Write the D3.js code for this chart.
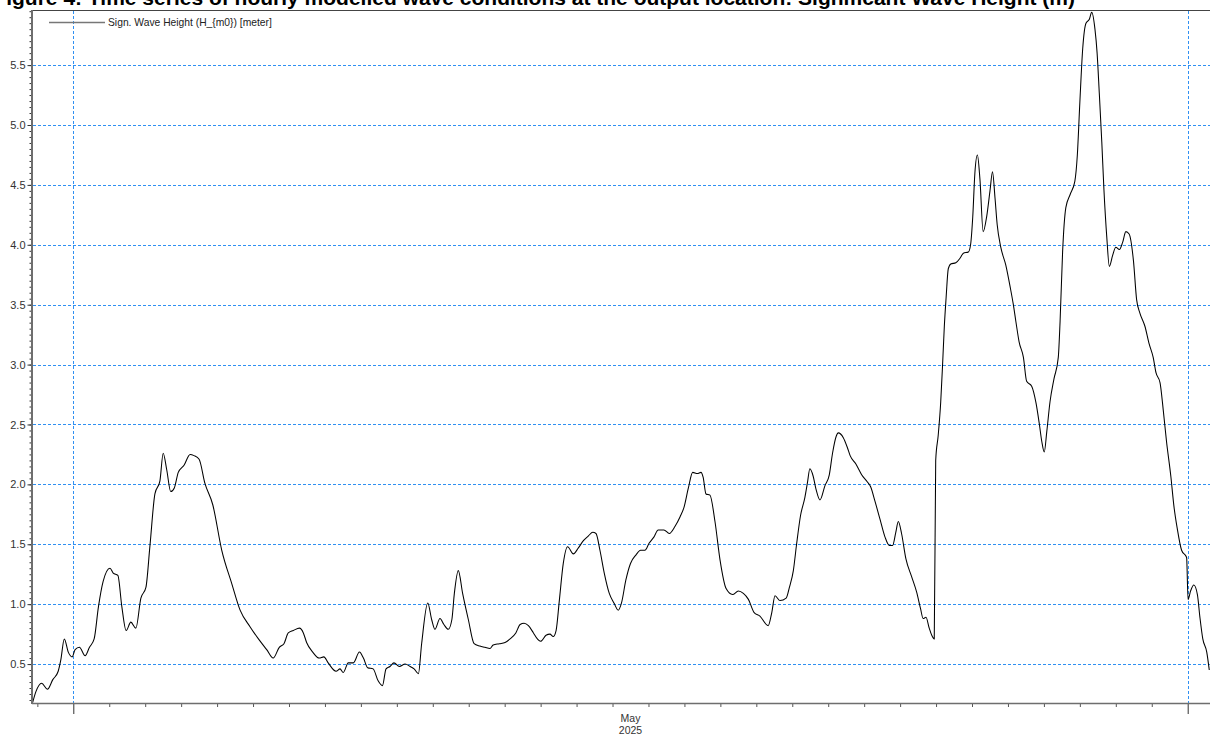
<!DOCTYPE html>
<html>
<head>
<meta charset="utf-8">
<script src="https://cdn.jsdelivr.net/npm/d3@7"></script>
<style>
  html, body { margin: 0; padding: 0; background: #ffffff; }
  svg { display: block; font-family: "Liberation Sans", Arial, sans-serif; }
</style>
</head>
<body>
<svg id="chart" width="1210" height="738"></svg>
<script>
// Hourly significant wave height, time in days since 2025-05-01 00:00 UTC
const dayOffsets = [
  -1.13, -1.04, -0.88, -0.72, -0.57, -0.42, -0.35, -0.25, -0.14, -0.03,
  0.05, 0.17, 0.33, 0.45, 0.58, 0.70, 0.83, 1.02, 1.11, 1.24,
  1.35, 1.47, 1.60, 1.74, 1.88, 2.02, 2.13, 2.27, 2.41, 2.50,
  2.60, 2.71, 2.81, 2.92, 3.08, 3.25, 3.36, 3.50, 3.66, 3.88,
  4.13, 4.41, 4.64, 4.92, 5.15, 5.38, 5.56, 5.73, 5.86, 5.98,
  6.12, 6.29, 6.40, 6.49, 6.66, 6.84, 6.97, 7.09, 7.31, 7.42,
  7.51, 7.65, 7.79, 7.96, 8.07, 8.19, 8.34, 8.48, 8.60, 8.70,
  8.81, 8.92, 9.07, 9.23, 9.37, 9.48, 9.60, 9.69, 9.86, 9.97,
  10.06, 10.20, 10.31, 10.43, 10.53, 10.60, 10.71, 10.83, 10.99, 11.15,
  11.31, 11.45, 11.59, 11.68, 11.85, 12.01, 12.15, 12.31, 12.43, 12.54,
  12.66, 12.80, 12.91, 13.00, 13.15, 13.26, 13.35, 13.43, 13.52, 13.63,
  13.75, 13.91, 14.05, 14.19, 14.33, 14.45, 14.54, 14.65, 14.77, 14.91,
  15.04, 15.16, 15.25, 15.37, 15.50, 15.65, 15.78, 15.90, 16.02, 16.15,
  16.27, 16.43, 16.58, 16.74, 16.88, 16.99, 17.11, 17.23, 17.36, 17.46,
  17.52, 17.60, 17.71, 17.85, 17.99, 18.16, 18.34, 18.50, 18.64, 18.78,
  18.94, 19.10, 19.33, 19.43, 19.52, 19.66, 19.83, 19.92, 20.03, 20.12,
  20.23, 20.35, 20.42, 20.49, 20.58, 20.66, 20.77, 20.91, 21.03, 21.12,
  21.22, 21.28, 21.42, 21.53, 21.61, 21.77, 21.93, 22.09, 22.18, 22.30,
  22.44, 22.58, 22.70, 22.79, 22.88, 22.95, 23.04, 23.16, 23.32, 23.46,
  23.57, 23.64, 23.72, 23.81, 23.88, 23.95, 23.99, 24.06, 24.13, 24.18,
  24.23, 24.28, 24.34, 24.41, 24.55, 24.67, 24.76, 24.90, 24.96, 25.02,
  25.08, 25.15, 25.22, 25.31, 25.41, 25.50, 25.57, 25.64, 25.70, 25.80,
  25.94, 26.06, 26.15, 26.22, 26.31, 26.43, 26.52, 26.66, 26.78, 26.87,
  26.94, 27.01, 27.08, 27.17, 27.28, 27.40, 27.45, 27.52, 27.61, 27.73,
  27.86, 27.93, 28.00, 28.08, 28.17, 28.26, 28.33, 28.42, 28.48, 28.54,
  28.61, 28.67, 28.75, 28.82, 28.91, 29.00, 29.10, 29.19, 29.28, 29.37,
  29.49, 29.58, 29.67, 29.81, 29.93, 30.04, 30.12, 30.23, 30.32, 30.41,
  30.53, 30.62, 30.71, 30.83, 30.97, 31.01, 31.08, 31.17, 31.27, 31.34,
  31.42, 31.53, 31.60
];
const hm0 = [
  0.18, 0.27, 0.34, 0.29, 0.37, 0.44, 0.53, 0.71, 0.60, 0.56,
  0.62, 0.64, 0.57, 0.64, 0.71, 0.98, 1.19, 1.30, 1.26, 1.24,
  0.98, 0.78, 0.85, 0.80, 1.05, 1.14, 1.48, 1.92, 2.03, 2.26,
  2.12, 1.94, 1.97, 2.10, 2.16, 2.25, 2.24, 2.21, 2.01, 1.83,
  1.45, 1.17, 0.95, 0.81, 0.71, 0.62, 0.55, 0.64, 0.67, 0.76,
  0.78, 0.80, 0.76, 0.68, 0.60, 0.55, 0.56, 0.51, 0.44, 0.46,
  0.43, 0.51, 0.51, 0.60, 0.55, 0.47, 0.46, 0.36, 0.32, 0.46,
  0.48, 0.51, 0.48, 0.50, 0.48, 0.46, 0.42, 0.67, 1.01, 0.87,
  0.79, 0.88, 0.83, 0.79, 0.87, 1.09, 1.28, 1.09, 0.87, 0.67,
  0.65, 0.64, 0.63, 0.66, 0.67, 0.68, 0.71, 0.76, 0.83, 0.84,
  0.82, 0.76, 0.71, 0.69, 0.74, 0.75, 0.73, 0.78, 1.03, 1.34,
  1.48, 1.42, 1.47, 1.53, 1.57, 1.60, 1.59, 1.45, 1.26, 1.09,
  1.01, 0.95, 1.01, 1.20, 1.34, 1.41, 1.45, 1.45, 1.51, 1.56,
  1.62, 1.62, 1.59, 1.65, 1.73, 1.81, 1.97, 2.10, 2.09, 2.10,
  2.06, 1.92, 1.91, 1.69, 1.37, 1.13, 1.08, 1.11, 1.09, 1.04,
  0.93, 0.90, 0.82, 0.93, 1.07, 1.03, 1.05, 1.14, 1.28, 1.50,
  1.74, 1.89, 2.01, 2.13, 2.07, 1.96, 1.87, 1.99, 2.08, 2.26,
  2.40, 2.43, 2.39, 2.31, 2.24, 2.17, 2.08, 2.02, 1.98, 1.86,
  1.71, 1.56, 1.49, 1.49, 1.60, 1.69, 1.59, 1.38, 1.23, 1.10,
  0.96, 0.88, 0.89, 0.80, 0.74, 0.71, 2.20, 2.41, 2.69, 2.99,
  3.32, 3.56, 3.80, 3.84, 3.85, 3.89, 3.93, 3.94, 4.00, 4.23,
  4.60, 4.75, 4.55, 4.11, 4.24, 4.45, 4.61, 4.39, 4.17, 3.98,
  3.83, 3.65, 3.50, 3.36, 3.19, 3.06, 2.86, 2.82, 2.68, 2.51,
  2.36, 2.27, 2.44, 2.69, 2.88, 3.06, 3.36, 3.94, 4.31, 4.42,
  4.53, 4.75, 5.19, 5.64, 5.85, 5.88, 5.94, 5.80, 5.60, 5.27,
  4.86, 4.46, 4.06, 3.82, 3.91, 3.98, 3.96, 4.02, 4.11, 4.09,
  3.87, 3.54, 3.43, 3.32, 3.17, 3.06, 2.93, 2.85, 2.62, 2.36,
  2.07, 1.81, 1.63, 1.45, 1.39, 1.04, 1.11, 1.16, 1.08, 0.89,
  0.71, 0.60, 0.45
];
const yTickValues = [0.5, 1.0, 1.5, 2.0, 2.5, 3.0, 3.5, 4.0, 4.5, 5.0, 5.5];
const monthLabel = ["May", "2025"];
const seriesName = "Sign. Wave Height (H_{m0}) [meter]";
const titleText = "Figure 4: Time series of hourly modelled wave conditions at the output location: Significant Wave Height (m)";

const DAY = 86400000;
const t0 = Date.UTC(2025, 4, 1);
const data = dayOffsets.map((d, i) => ({ t: new Date(t0 + d * DAY), v: hm0[i] }));

const svg = d3.select("#chart");
const W = 1210, H = 738;
const plot = { left: 32, top: 10, right: 1216, bottom: 703 };

const x = d3.scaleUtc()
  .domain([new Date(Date.UTC(2025, 4, 1)), new Date(Date.UTC(2025, 5, 1))])
  .range([73.3, 1187.7]);
const y = d3.scaleLinear().domain([0.175, 5.96]).range([plot.bottom, plot.top]);

const gridColor = "#2f90f2";
const axisColor = "#6e6e6e";

svg.append("rect").attr("width", W).attr("height", H).attr("fill", "#fff");

// Figure title, running above the top edge of the frame
svg.append("text")
  .attr("x", 1075).attr("y", 4.5)
  .attr("text-anchor", "end")
  .attr("font-size", 21).attr("font-weight", "bold").attr("fill", "#000")
  .text(titleText);

svg.append("clipPath").attr("id", "plotClip")
  .append("rect")
  .attr("x", plot.left).attr("y", plot.top)
  .attr("width", plot.right - plot.left).attr("height", plot.bottom - plot.top);

// Horizontal grid
svg.append("g")
  .selectAll("line").data(yTickValues).join("line")
  .attr("x1", plot.left + 1).attr("x2", plot.right)
  .attr("y1", d => Math.round(y(d)) + 0.5).attr("y2", d => Math.round(y(d)) + 0.5)
  .attr("stroke", gridColor).attr("stroke-width", 1).attr("stroke-dasharray", "3,2");

// Vertical grid at month boundaries
const monthStarts = [new Date(Date.UTC(2025, 4, 1)), new Date(Date.UTC(2025, 5, 1))];
svg.append("g")
  .selectAll("line").data(monthStarts).join("line")
  .attr("x1", d => Math.round(x(d)) + 0.5).attr("x2", d => Math.round(x(d)) + 0.5)
  .attr("y1", plot.top + 1).attr("y2", plot.bottom)
  .attr("stroke", gridColor).attr("stroke-width", 1).attr("stroke-dasharray", "3,2");

// Series line
svg.append("path")
  .datum(data)
  .attr("clip-path", "url(#plotClip)")
  .attr("fill", "none").attr("stroke", "#000").attr("stroke-width", 1.05)
  .attr("stroke-linejoin", "round")
  .attr("d", d3.line().curve(d3.curveMonotoneX).x(d => x(d.t)).y(d => y(d.v)));

// Frame: top border
svg.append("line")
  .attr("x1", plot.left).attr("x2", W).attr("y1", plot.top + 0.5).attr("y2", plot.top + 0.5)
  .attr("stroke", "#444").attr("stroke-width", 1);

// Y axis with major and minor ticks
const minorY = d3.range(4, 120).map(i => +(i * 0.05).toFixed(2)).filter(v => v <= 5.96 && v >= 0.175);
svg.append("g")
  .attr("transform", `translate(${plot.left + 0.5},0)`)
  .call(d3.axisLeft(y).tickValues(minorY).tickSize(3).tickFormat(""))
  .call(g => g.select(".domain").remove())
  .call(g => g.selectAll("line").attr("stroke", "#333"));
const yAxis = svg.append("g")
  .attr("transform", `translate(${plot.left + 0.5},0)`)
  .call(d3.axisLeft(y).tickValues(yTickValues).tickSize(5).tickPadding(2).tickFormat(d3.format(".1f")));
yAxis.select(".domain").remove();
yAxis.selectAll("line").attr("stroke", "#333");
yAxis.selectAll("text").attr("font-size", 11).attr("fill", "#333")
  .attr("font-family", "'Liberation Sans', Arial, sans-serif");
svg.append("line")
  .attr("x1", plot.left).attr("x2", plot.left).attr("y1", plot.top).attr("y2", plot.bottom + 1)
  .attr("stroke", axisColor).attr("stroke-width", 2);

// X axis: daily minor ticks, monthly major ticks
const dayTicks = d3.utcDay.range(x.invert(plot.left + 1), x.invert(W + 2))
  .filter(d => d.getUTCDate() !== 1);
svg.append("g")
  .attr("transform", `translate(0,${plot.bottom})`)
  .call(d3.axisBottom(x).tickValues(dayTicks).tickSize(4).tickFormat(""))
  .call(g => g.select(".domain").remove())
  .call(g => g.selectAll("line").attr("stroke", "#555"));
svg.append("g")
  .attr("transform", `translate(0,${plot.bottom})`)
  .call(d3.axisBottom(x).tickValues(monthStarts).tickSize(11).tickFormat(""))
  .call(g => g.select(".domain").remove())
  .call(g => g.selectAll("line").attr("stroke", "#333"));
svg.append("line")
  .attr("x1", plot.left).attr("x2", W).attr("y1", plot.bottom + 0.5).attr("y2", plot.bottom + 0.5)
  .attr("stroke", axisColor).attr("stroke-width", 1.5);

// Month label centred in the month
const midMay = new Date((monthStarts[0].getTime() + monthStarts[1].getTime()) / 2);
const lbl = svg.append("text")
  .attr("x", x(midMay)).attr("y", 722)
  .attr("text-anchor", "middle").attr("font-size", 10.5).attr("fill", "#333");
lbl.append("tspan").attr("x", x(midMay)).attr("dy", 0).text(monthLabel[0]);
lbl.append("tspan").attr("x", x(midMay)).attr("dy", 12).text(monthLabel[1]);

// Legend
const lg = svg.append("g");
lg.append("line").attr("x1", 49).attr("x2", 105).attr("y1", 22.5).attr("y2", 22.5)
  .attr("stroke", "#777").attr("stroke-width", 1.5);
lg.append("text").attr("x", 108).attr("y", 26)
  .attr("font-size", 10.3).attr("fill", "#222").text(seriesName);
</script>
</body>
</html>
